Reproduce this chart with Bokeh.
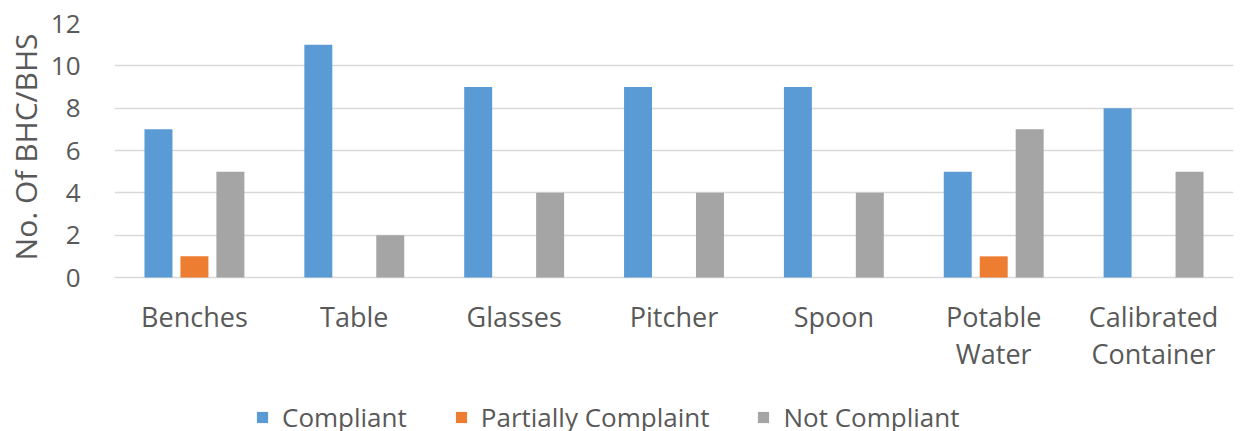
from bokeh.plotting import figure
from bokeh.models import FactorRange, Legend, LegendItem, ColumnDataSource, Title, Range1d
from bokeh.transform import dodge
from bokeh.embed import file_html
from bokeh.resources import INLINE

categories = ["Benches", "Table", "Glasses", "Pitcher", "Spoon", "Potable\nWater", "Calibrated\nContainer"]
compliant = [7, 11, 9, 9, 9, 5, 8]
partially = [1, 0, 0, 0, 0, 1, 0]
not_compliant = [5, 2, 4, 4, 4, 7, 5]
series_names = ["Compliant", "Partially Complaint", "Not Compliant"]
colors = ["#5b9bd5", "#ed7d31", "#a5a5a5"]
y_ticks = [0, 2, 4, 6, 8, 10, 12]

src = ColumnDataSource(dict(cat=categories, c=compliant, p=partially, n=not_compliant))

FONT = "Open Sans"
TXT = "#595959"

# frame spans the plot area plus the legend strip below; the value axis stays 0-12
y_top = 12
y_bottom = -y_top * 154 / 254

p = figure(frame_width=1119, frame_height=408, x_range=FactorRange(*categories, range_padding=0),
           y_range=Range1d(y_bottom, y_top), output_backend="svg", toolbar_location=None,
           min_border_left=114, min_border_right=2, min_border_top=23, min_border_bottom=0)
p.outline_line_color = None
p.background_fill_color = "white"
p.border_fill_color = "white"

renderers = []
for col, off, color in zip(["c", "p", "n"], [-0.225, 0.0, 0.225], colors):
    r = p.vbar(x=dodge("cat", off, range=p.x_range), top=col, width=0.175, source=src,
               fill_color=color, line_color=None)
    renderers.append(r)

p.xgrid.grid_line_color = None
p.ygrid.grid_line_color = "#d9d9d9"
p.ygrid.grid_line_width = 1.3
p.yaxis.ticker = y_ticks

for ax in (p.xaxis[0], p.yaxis[0]):
    ax.axis_line_color = None
    ax.major_tick_line_color = None
    ax.minor_tick_line_color = None
    ax.major_label_text_font = FONT
    ax.major_label_text_font_size = "26px"
    ax.major_label_text_color = TXT

p.xaxis.fixed_location = 0
p.xaxis.major_label_text_font_size = "27px"
p.xaxis.major_label_standoff = 14
p.xaxis.major_label_text_line_height = 1.0
p.yaxis.major_label_standoff = 28

ytitle = Title(text="No. Of BHC/BHS", align="right", offset=10, standoff=3,
               text_font=FONT, text_font_size="30px", text_font_style="normal",
               text_color=TXT)
p.add_layout(ytitle, "left")

legend = Legend(items=[LegendItem(label=n, renderers=[r]) for n, r in zip(series_names, renderers)],
                orientation="horizontal", location=(141, -4))
legend.label_text_font = FONT
legend.label_text_font_size = "26px"
legend.label_text_color = TXT
legend.glyph_width = 14
legend.glyph_height = 14
legend.spacing = 47
legend.label_standoff = 13
legend.border_line_color = None
legend.background_fill_alpha = 0
legend.margin = 0
legend.padding = 0
p.add_layout(legend, "center")

open("out.html", "w").write(file_html(p, INLINE))
